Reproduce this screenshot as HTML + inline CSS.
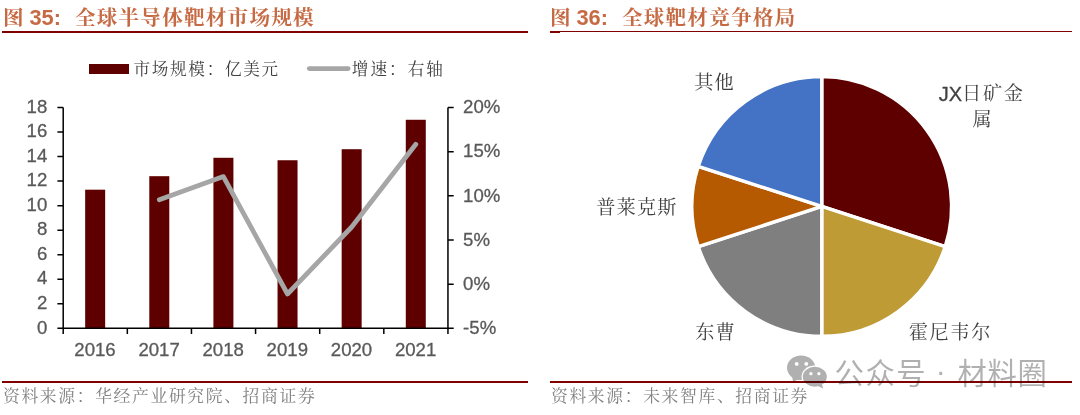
<!DOCTYPE html>
<html lang="zh-CN">
<head>
<meta charset="utf-8">
<title>图 35 / 图 36</title>
<style>
html,body{margin:0;padding:0;background:#fff;}
body{width:1080px;height:415px;position:relative;overflow:hidden;font-family:"Liberation Sans","Noto Serif CJK SC",serif;}
.abs{position:absolute;white-space:nowrap;line-height:1;}
.title{color:#C66A43;font-weight:bold;font-size:21.8px;top:6.6px;}
.title .cj{font-family:"Liberation Serif","Noto Serif CJK SC",serif;font-size:20.6px;letter-spacing:1.22px;}
.rule{position:absolute;height:2.4px;background:#800000;}
.src{color:#808080;font-family:"Liberation Serif","Noto Serif CJK SC",serif;font-size:16.8px;letter-spacing:1.65px;top:389px;}
.leg{color:#404040;font-family:"Liberation Serif","Noto Serif CJK SC",serif;font-size:16.6px;letter-spacing:1.72px;top:62.2px;}
.plab{color:#404040;font-family:"Liberation Sans","Noto Serif CJK SC",serif;font-size:19.2px;letter-spacing:1.2px;}
svg{position:absolute;left:0;top:0;}
svg text{font-family:"Liberation Sans",sans-serif;font-size:18.6px;fill:#595959;stroke:#595959;stroke-width:0.3px;}
.wm{color:rgba(0,0,0,0.31);font-family:"Liberation Sans","Noto Sans CJK SC",sans-serif;font-size:29.4px;letter-spacing:1.5px;top:358.5px;}
</style>
</head>
<body>
<!-- titles -->
<div class="abs title" style="left:3px;"><span class="cj">图</span> <span style="margin-left:-1.5px;">35:</span><span class="cj" style="margin-left:14px;">全球半导体靶材市场规模</span></div>
<div class="abs title" style="left:550px;"><span class="cj">图</span> <span style="margin-left:-1.5px;">36:</span><span class="cj" style="margin-left:14px;">全球靶材竞争格局</span></div>
<div class="rule" style="left:1.9px;width:525.9px;top:30.9px;height:2.4px;"></div>
<div class="rule" style="left:549.6px;width:522.4px;top:30.6px;height:1.8px;"></div>
<div class="rule" style="left:549.6px;width:10.4px;top:30.6px;height:2.8px;"></div>
<div class="rule" style="left:1.9px;width:525.9px;top:380.9px;height:2.5px;"></div>
<div class="rule" style="left:549.6px;width:522.4px;top:380.9px;height:2.5px;"></div>

<!-- legend -->
<div class="abs leg" style="left:133.4px;">市场规模：亿美元</div>
<div class="abs leg" style="left:351.8px;letter-spacing:2.05px;">增速：右轴</div>

<svg width="1080" height="415" viewBox="0 0 1080 415">
  <!-- legend markers -->
  <rect x="89" y="64" width="40" height="10" fill="#5F0000"/>
  <line x1="309.3" y1="68.6" x2="348.1" y2="68.6" stroke="#A6A6A6" stroke-width="4.8" stroke-linecap="round"/>
  <!-- bars -->
  <g fill="#5F0000">
    <rect x="85.16" y="189.69" width="20.0" height="138.61"/>
    <rect x="149.29" y="176.19" width="20.0" height="152.11"/>
    <rect x="213.41" y="157.79" width="20.0" height="170.51"/>
    <rect x="277.54" y="160.25" width="20.0" height="168.05"/>
    <rect x="341.66" y="149.21" width="20.0" height="179.09"/>
    <rect x="405.79" y="119.77" width="20.0" height="208.53"/>
  </g>
  <!-- growth line -->
  <polyline points="159.3,199.7 223.4,176.6 287.5,294.0 351.7,227.0 415.8,144.3" fill="none" stroke="#A6A6A6" stroke-width="4.8" stroke-linecap="round" stroke-linejoin="round"/>
  <!-- axes -->
  <g stroke="#000" stroke-width="1.5" fill="none">
    <path d="M63.20 107.50V328.30H447.95V107.50"/>
    <path d="M57.4 107.50H63.20M57.4 132.03H63.20M57.4 156.57H63.20M57.4 181.10H63.20M57.4 205.63H63.20M57.4 230.17H63.20M57.4 254.70H63.20M57.4 279.23H63.20M57.4 303.77H63.20M57.4 328.30H63.20"/>
    <path d="M447.95 107.50H453.7M447.95 151.66H453.7M447.95 195.82H453.7M447.95 239.98H453.7M447.95 284.14H453.7M447.95 328.30H453.7"/>
    <path d="M63.20 328.30V334M127.33 328.30V334M191.45 328.30V334M255.57 328.30V334M319.70 328.30V334M383.82 328.30V334M447.95 328.30V334"/>
  </g>
  <!-- y labels left -->
  <g text-anchor="end">
    <text x="47.3" y="112.7">18</text>
    <text x="47.3" y="137.2">16</text>
    <text x="47.3" y="161.8">14</text>
    <text x="47.3" y="186.3">12</text>
    <text x="47.3" y="210.8">10</text>
    <text x="47.3" y="235.4">8</text>
    <text x="47.3" y="259.9">6</text>
    <text x="47.3" y="284.4">4</text>
    <text x="47.3" y="309.0">2</text>
    <text x="47.3" y="333.5">0</text>
  </g>
  <!-- y labels right -->
  <g text-anchor="start">
    <text x="463.1" y="113.2">20%</text>
    <text x="463.1" y="157.4">15%</text>
    <text x="463.1" y="201.6">10%</text>
    <text x="463.1" y="245.9">5%</text>
    <text x="463.1" y="290.1">0%</text>
    <text x="463.1" y="334.3">-5%</text>
  </g>
  <!-- x labels -->
  <g text-anchor="middle">
    <text x="95.0" y="355.8">2016</text>
    <text x="159.1" y="355.8">2017</text>
    <text x="223.2" y="355.8">2018</text>
    <text x="287.3" y="355.8">2019</text>
    <text x="351.5" y="355.8">2020</text>
    <text x="415.6" y="355.8">2021</text>
  </g>

  <!-- pie -->
  <g stroke="#fff" stroke-width="3.4" stroke-linejoin="round">
    <path d="M821.75 206.45L821.75 76.60A129.85 129.85 0 0 1 945.24 246.58Z" fill="#5F0000"/>
    <path d="M821.75 206.45L945.24 246.58A129.85 129.85 0 0 1 821.75 336.30Z" fill="#BF9B36"/>
    <path d="M821.75 206.45L821.75 336.30A129.85 129.85 0 0 1 698.26 246.58Z" fill="#7F7F7F"/>
    <path d="M821.75 206.45L698.26 246.58A129.85 129.85 0 0 1 698.26 166.32Z" fill="#B55A00"/>
    <path d="M821.75 206.45L698.26 166.32A129.85 129.85 0 0 1 821.75 76.60Z" fill="#4472C4"/>
  </g>
</svg>

<!-- pie labels -->
<div class="abs plab" style="left:694.2px;top:73px;">其他</div>
<div class="abs plab" style="left:938.7px;top:83.3px;letter-spacing:1.7px;"><span style="font-size:20px;letter-spacing:0;-webkit-text-stroke:0.3px #404040;position:relative;top:0.4px;">JX</span>日矿金</div>
<div class="abs plab" style="left:972.4px;top:110.2px;">属</div>
<div class="abs plab" style="left:596.2px;top:198px;">普莱克斯</div>
<div class="abs plab" style="left:695.2px;top:323.3px;">东曹</div>
<div class="abs plab" style="left:908.8px;top:323.4px;letter-spacing:1.6px;">霍尼韦尔</div>

<!-- source -->
<div class="abs src" style="left:3px;">资料来源：华经产业研究院、招商证券</div>
<div class="abs src" style="left:551px;">资料来源：未来智库、招商证券</div>

<!-- watermark -->
<svg width="1080" height="415" viewBox="0 0 1080 415" style="pointer-events:none">
  <defs>
    <mask id="wmk" maskUnits="userSpaceOnUse" x="780" y="350" width="60" height="45">
      <rect x="780" y="350" width="60" height="45" fill="#000"/>
      <!-- big bubble -->
      <ellipse cx="801.1" cy="367.8" rx="14.1" ry="12.3" fill="#fff"/>
      <path d="M792 376L793.2 382.2L800 378Z" fill="#fff"/>
      <circle cx="796.7" cy="363.9" r="1.9" fill="#000"/>
      <circle cx="806.3" cy="363.9" r="1.9" fill="#000"/>
      <!-- gap ring around small bubble -->
      <ellipse cx="814.8" cy="376.7" rx="13.3" ry="11.3" fill="#000"/>
      <!-- small bubble -->
      <ellipse cx="814.8" cy="376.7" rx="12" ry="10" fill="#fff"/>
      <path d="M817 385.5L823.2 388.6L821.5 383Z" fill="#fff"/>
      <circle cx="810.9" cy="373.7" r="1.6" fill="#000"/>
      <circle cx="818.9" cy="373.7" r="1.6" fill="#000"/>
    </mask>
  </defs>
  <rect x="780" y="350" width="60" height="45" fill="#000" fill-opacity="0.31" mask="url(#wmk)"/>
</svg>
<div class="abs wm" style="left:834.6px;">公众号</div>
<div class="abs wm" style="left:935.7px;top:356px;font-size:30px;letter-spacing:0;">·</div>
<div class="abs wm" style="left:957.6px;letter-spacing:0.6px;">材料圈</div>
</body>
</html>
